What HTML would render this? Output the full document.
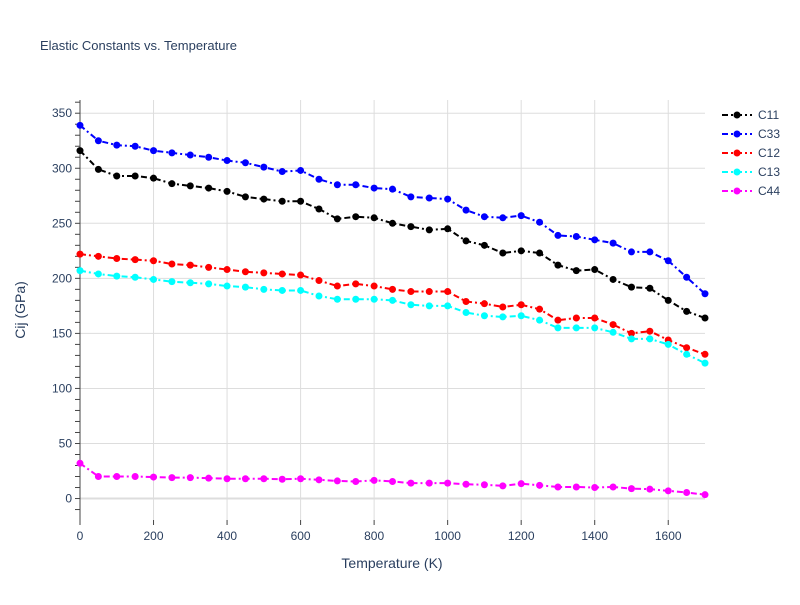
<!DOCTYPE html>
<html><head><meta charset="utf-8"><style>
body{margin:0;background:#fff;font-family:"Liberation Sans",sans-serif}
svg text{font-family:"Liberation Sans",sans-serif}
</style></head><body>
<svg id="chart" width="800" height="600" xmlns="http://www.w3.org/2000/svg">
<text x="40" y="50" font-size="13" fill="#2a3f5f">Elastic Constants vs. Temperature</text>
<g id="grid"></g><g id="axes"></g><g id="series"></g><g id="legend"></g>
<text x="392" y="568" font-size="14" fill="#2a3f5f" text-anchor="middle">Temperature (K)</text>
<text x="25" y="310" font-size="14" fill="#2a3f5f" text-anchor="middle" transform="rotate(-90 25 310)">Cij (GPa)</text>
</svg>
<script>
const temps=[0,50,100,150,200,250,300,350,400,450,500,550,600,650,700,750,800,850,900,950,1000,1050,1100,1150,1200,1250,1300,1350,1400,1450,1500,1550,1600,1650,1700];
const c11=[316,299,293,293,291,286,284,282,279,274,272,270,270,263,254,256,255,250,247,244,245,234,230,223,225,223,212,207,208,199,192,191,180,170,164];
const c33=[339,325,321,320,316,314,312,310,307,305,301,297,298,290,285,285,282,281,274,273,272,262,256,255,257,251,239,238,235,232,224,224,216,201,186];
const c12=[222,220,218,217,216,213,212,210,208,206,205,204,203,198,193,195,193,190,188,188,188,179,177,174,176,172,162,164,164,158,150,152,144,137,131];
const c13=[207,204,202,201,199,197,196,195,193,192,190,189,189,184,181,181,181,180,176,175,175,169,166,165,166,162,155,155,155,151,145,145,140,131,123];
const c44=[32,20,20,20,19.5,19,19,18.5,18,18,18,17.5,18,17,16,15.5,16.5,15.5,14,14,14,13,12.5,11.5,13.5,12,10.5,10.5,10,10.5,9,8.5,7,5.5,3.5];
const seriesNames=["C11","C33","C12","C13","C44"];
const seriesColors=["#000000","#0000ff","#ff0000","#00ffff","#ff00ff"];
const xTicks=[0,200,400,600,800,1000,1200,1400,1600];
const yTicks=[0,50,100,150,200,250,300,350];
const NS="http://www.w3.org/2000/svg";
const X0=80,X1=705,Y0=100,Y1=520,xmin=0,xmax=1700,ymin=-19.5,ymax=362;
const xs=v=>X0+(v-xmin)/(xmax-xmin)*(X1-X0);
const ys=v=>Y1-(v-ymin)/(ymax-ymin)*(Y1-Y0);
function mk(tag,attrs,parent){const e=document.createElementNS(NS,tag);for(const k in attrs)e.setAttribute(k,attrs[k]);parent.appendChild(e);return e;}
const grid=document.getElementById('grid'),axes=document.getElementById('axes'),ser=document.getElementById('series'),leg=document.getElementById('legend');
xTicks.forEach(t=>{
 const l=mk('line',{x1:xs(t),x2:xs(t),y1:Y0,y2:Y1,stroke:t===0?'#444':'#dddddd','stroke-width':1},grid);
 
 
 const tk=mk('line',{x1:xs(t),x2:xs(t),y1:Y1,y2:Y1+5,stroke:'#444'},axes);
 
 
 const tx=mk('text',{x:xs(t),y:Y1+20,'font-size':12,fill:'#2a3f5f','text-anchor':'middle'},axes);
 tx.textContent=t;
 
 
});
yTicks.forEach(t=>{
 const l=mk('line',{x1:X0,x2:X1,y1:ys(t),y2:ys(t),stroke:'#dddddd','stroke-width':t===0?2:1},grid);
 
 
 const tx=mk('text',{x:X0-8,y:ys(t)+4,'font-size':12,fill:'#2a3f5f','text-anchor':'end'},axes);
 tx.textContent=t;
 
 
});
for(let v=-10;v<=360;v+=10){
 const tk=mk('line',{x1:X0-5,x2:X0,y1:ys(v),y2:ys(v),stroke:'#444'},axes);
 
 
}
const ax=mk('line',{x1:X0,x2:X0,y1:Y0,y2:Y1,stroke:'#444'},axes);


const data=[c11,c33,c12,c13,c44];
data.forEach((arr,i)=>{
 const g=mk('g',{},ser);
 
 
 const pts=arr.map((v,j)=>xs(temps[j])+','+ys(v)).join(' ');
 const pl=mk('polyline',{points:pts,fill:'none',stroke:seriesColors[i],'stroke-width':2,'stroke-dasharray':'6,3,2,3'},g);
 
 
 arr.forEach((v,j)=>{
  const c=mk('circle',{cx:xs(temps[j]),cy:ys(v),r:3.5,fill:seriesColors[i]},g);
  
  
 });
 const ly=115+i*19;
 const lg=mk('g',{},leg);
 
 
 mk('line',{x1:722,x2:752,y1:ly,y2:ly,stroke:seriesColors[i],'stroke-width':2,'stroke-dasharray':'6,3,2,3'},lg);
 mk('circle',{cx:737,cy:ly,r:3.5,fill:seriesColors[i]},lg);
 const t=mk('text',{x:758,y:ly+4,'font-size':12,fill:'#2a3f5f'},lg);
 t.textContent=seriesNames[i];
});
</script>
</body></html>
